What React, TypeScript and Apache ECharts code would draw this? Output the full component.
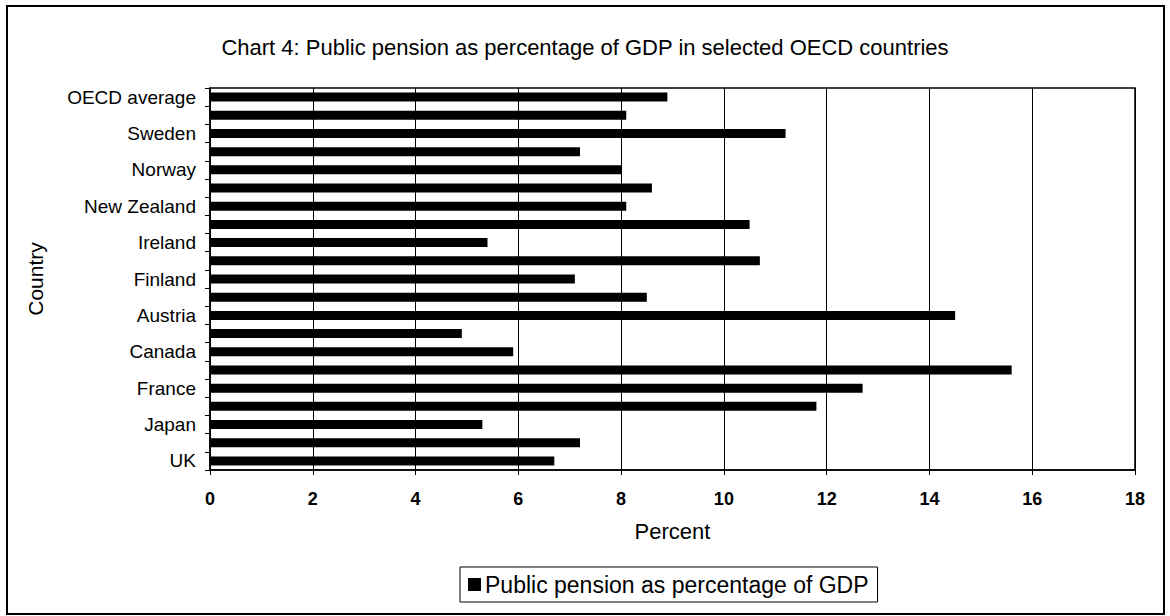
import React, { useEffect, useRef } from "react";
import * as echarts from "echarts";

// Bottom-to-top order as drawn (UK at bottom, OECD average at top)
const countries = [
  "UK", "United States", "Japan", "Germany", "France", "Italy", "Canada",
  "Australia", "Austria", "Belgium", "Finland", "Greece", "Ireland",
  "Netherlands", "New Zealand", "Portugal", "Norway", "Spain", "Sweden",
  "Switzerland", "OECD average",
];
const pensionPct = [
  6.7, 7.2, 5.3, 11.8, 12.7, 15.6, 5.9,
  4.9, 14.5, 8.5, 7.1, 10.7, 5.4,
  10.5, 8.1, 8.6, 8.0, 7.2, 11.2,
  8.1, 8.9,
];
const xTicks = { min: 0, max: 18, interval: 2 };
const titleText = "Chart 4: Public pension as percentage of GDP in selected OECD countries";
const seriesName = "Public pension as percentage of GDP";

const FONT = "Liberation Sans, Arial, sans-serif";

export default function App() {
  const ref = useRef<HTMLDivElement>(null);
  useEffect(() => {
    if (!ref.current) return;
    const chart = echarts.init(ref.current, null, { renderer: "svg" });
    chart.setOption({
      animation: false,
      backgroundColor: "#fff",
      textStyle: { fontFamily: FONT, color: "#000" },
      title: {
        text: titleText,
        left: "center",
        top: 31,
        textStyle: { fontFamily: FONT, fontSize: 22, fontWeight: "normal", color: "#000" },
      },
      graphic: [
        {
          type: "rect",
          shape: { x: 7, y: 6, width: 1157, height: 608 },
          style: { fill: "none", stroke: "#000", lineWidth: 2 },
          silent: true,
        },
      ],
      legend: {
        data: [seriesName],
        left: 460,
        top: 567,
        orient: "horizontal",
        icon: "rect",
        itemWidth: 13,
        itemHeight: 13,
        itemGap: 6,
        padding: [6, 9, 6, 8],
        borderColor: "#000",
        borderWidth: 1,
        textStyle: { fontFamily: FONT, fontSize: 23, color: "#000", padding: [0, 0, 0, -1] },
      },
      grid: {
        left: 210,
        right: 35,
        top: 88,
        bottom: 146,
        show: true,
        borderColor: "#000",
        borderWidth: 1.5,
      },
      xAxis: {
        type: "value",
        min: xTicks.min,
        max: xTicks.max,
        interval: xTicks.interval,
        name: "Percent",
        nameLocation: "middle",
        nameGap: 50,
        nameTextStyle: { fontFamily: FONT, fontSize: 22, color: "#000" },
        axisLine: { show: true, lineStyle: { color: "#000", width: 1.5 } },
        axisTick: { show: true, length: 5, lineStyle: { color: "#000" } },
        axisLabel: { fontFamily: FONT, fontSize: 18, fontWeight: "bold", color: "#000", margin: 20 },
        splitLine: { show: true, lineStyle: { color: "#000", width: 1 } },
      },
      yAxis: {
        type: "category",
        data: countries,
        name: "Country",
        nameLocation: "middle",
        nameRotate: 90,
        nameGap: 164,
        nameTextStyle: { fontFamily: FONT, fontSize: 21, color: "#000" },
        axisLine: { show: true, lineStyle: { color: "#000", width: 1.5 } },
        axisTick: { show: true, length: 5, interval: 0, alignWithLabel: false, lineStyle: { color: "#000" } },
        axisLabel: { interval: 1, fontFamily: FONT, fontSize: 19, color: "#000", margin: 14 },
        splitLine: { show: false },
      },
      series: [
        {
          name: seriesName,
          type: "bar",
          data: pensionPct,
          barWidth: 9,
          itemStyle: { color: "#000" },
        },
      ],
    });
    return () => chart.dispose();
  }, []);
  return (
    <div
      ref={ref}
      style={{ position: "absolute", left: 0, top: 0, width: 1170, height: 616 }}
    />
  );
}
